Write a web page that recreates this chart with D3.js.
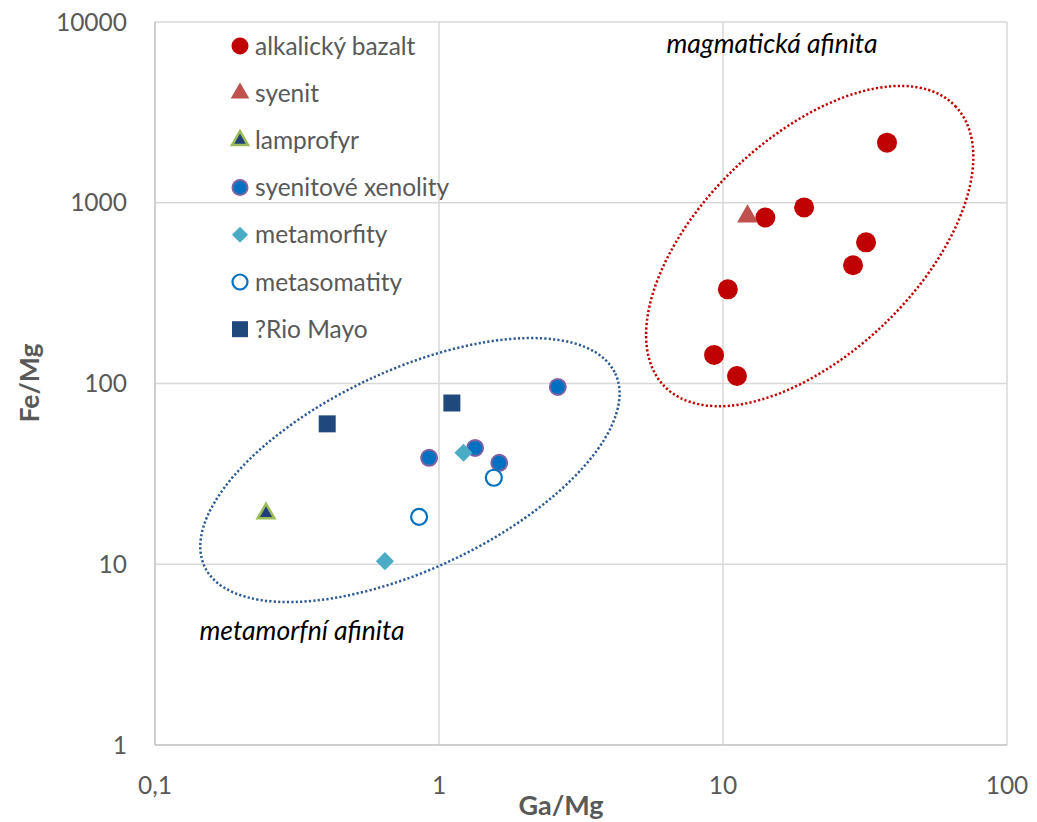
<!DOCTYPE html>
<html><head><meta charset="utf-8">
<script src="https://cdn.jsdelivr.net/npm/d3@7/dist/d3.min.js"></script>
<style>body{margin:0;background:#fff}svg{display:block}</style>
</head><body>
<svg id="c" width="1037" height="822"></svg>
<script>
// ---- data ----
const seriesNames = ["alkalický bazalt","syenit","lamprofyr","syenitové xenolity","metamorfity","metasomatity","?Rio Mayo"];
const bazaltGa = [37.8, 19.3, 14.1, 31.9, 28.7, 10.4, 9.3, 11.2];
const bazaltFe = [2150, 942, 829, 604, 451, 332, 144, 110];
const syenitGa = [12.2];
const syenitFe = [840];
const lamprofyrGa = [0.246];
const lamprofyrFe = [19.1];
const xenolityGa = [0.923, 1.34, 1.63, 2.62];
const xenolityFe = [38.8, 44, 36.4, 95.7];
const metamorfityGa = [1.22, 0.645];
const metamorfityFe = [41.4, 10.4];
const metasomatityGa = [1.56, 0.851];
const metasomatityFe = [30.1, 18.3];
const rioMayoGa = [0.404, 1.11];
const rioMayoFe = [59.8, 78];
const xTicks = [0.1, 1, 10, 100];
const xTickLabels = ["0,1", "1", "10", "100"];
const yTicks = [1, 10, 100, 1000, 10000];
const yTickLabels = ["1", "10", "100", "1000", "10000"];
// ellipses: centre (Ga/Mg, Fe/Mg), semi-axes in decades, rotation in degrees
const ellipseNames = ["magmatická afinita", "metamorfní afinita"];
const ellipseCx = [20.2, 0.79];
const ellipseCy = [576, 33.2];
const ellipseA = [0.711, 0.799];
const ellipseB = [0.380, 0.350];
const ellipseRot = [-43.9, -25.2];

// ---- chart ----
const svg = d3.select("#c");
const font = "Lato, 'Open Sans', sans-serif";
const x = d3.scaleLog().domain([0.1, 100]).range([155, 1007]);
const y = d3.scaleLog().domain([1, 10000]).range([745, 22]);
const dec = x(10) - x(1);

// gridlines
svg.append("g").selectAll("line").data(yTicks.slice(1)).join("line")
  .attr("x1", x(0.1)).attr("x2", x(100)).attr("y1", d => y(d)).attr("y2", d => y(d))
  .attr("stroke", "#d9d9d9").attr("stroke-width", 1.5);
svg.append("g").selectAll("line").data(xTicks.slice(1)).join("line")
  .attr("y1", y(1)).attr("y2", y(10000)).attr("x1", d => x(d)).attr("x2", d => x(d))
  .attr("stroke", "#d9d9d9").attr("stroke-width", 1.5);
// axis lines
svg.append("line").attr("x1", x(0.1)).attr("x2", x(0.1)).attr("y1", y(1)).attr("y2", y(10000))
  .attr("stroke", "#bfbfbf").attr("stroke-width", 1.5);
svg.append("line").attr("x1", x(0.1)).attr("x2", x(100)).attr("y1", y(1)).attr("y2", y(1))
  .attr("stroke", "#bfbfbf").attr("stroke-width", 1.5);

// tick labels
svg.append("g").selectAll("text").data(yTicks).join("text")
  .attr("x", 127).attr("y", d => y(d)).attr("dy", "0.35em").attr("text-anchor", "end")
  .attr("font-family", font).attr("font-size", 24.5).attr("fill", "#595959")
  .text((d, i) => yTickLabels[i]);
svg.append("g").selectAll("text").data(xTicks).join("text")
  .attr("x", d => x(d)).attr("y", 785).attr("dy", "0.35em").attr("text-anchor", "middle")
  .attr("font-family", font).attr("font-size", 24.5).attr("fill", "#595959")
  .text((d, i) => xTickLabels[i]);
// axis titles
svg.append("text").attr("x", 561).attr("y", 806).attr("dy", "0.35em").attr("text-anchor", "middle")
  .attr("font-family", font).attr("font-size", 27).attr("font-weight", "bold").attr("fill", "#595959")
  .text("Ga/Mg");
svg.append("text").attr("transform", "translate(30,383) rotate(-90)").attr("dy", "0.35em")
  .attr("text-anchor", "middle").attr("font-family", font).attr("font-size", 26.5)
  .attr("font-weight", "bold").attr("fill", "#595959").text("Fe/Mg");

// ellipses
const ellColors = ["#c00000", "#2e5a94"];
ellipseNames.forEach((n, i) => {
  svg.append("ellipse")
    .attr("transform", `translate(${x(ellipseCx[i])},${y(ellipseCy[i])}) rotate(${ellipseRot[i]})`)
    .attr("rx", ellipseA[i] * dec).attr("ry", ellipseB[i] * dec)
    .attr("fill", "none").attr("stroke", ellColors[i]).attr("stroke-width", 2.5)
    .attr("stroke-dasharray", "2.2,2.2");
});
// annotations
svg.append("text").attr("x", 772).attr("y", 44).attr("dy", "0.35em").attr("text-anchor", "middle")
  .attr("font-family", font).attr("font-size", 26.5).attr("font-style", "italic").attr("fill", "#000")
  .text(ellipseNames[0]);
svg.append("text").attr("x", 302).attr("y", 631).attr("dy", "0.35em").attr("text-anchor", "middle")
  .attr("font-family", font).attr("font-size", 26.5).attr("font-style", "italic").attr("fill", "#000")
  .text(ellipseNames[1]);

// marker styles
const styles = [
  {type: d3.symbolCircle, size: Math.PI * 10 * 10, lsize: Math.PI * 8.5 * 8.5, fill: "#c00000", stroke: "none", sw: 0, rot: 0},
  {type: d3.symbolTriangle, size: 190, lsize: 150, fill: "#c0504d", stroke: "none", sw: 0, rot: 0},
  {type: d3.symbolTriangle, size: 120, lsize: 110, fill: "#1f3f7a", stroke: "#9bbb59", sw: 2.5, rot: 0},
  {type: d3.symbolCircle, size: Math.PI * 8 * 8, lsize: Math.PI * 7.5 * 7.5, fill: "#0070c0", stroke: "#8064a2", sw: 2, rot: 0},
  {type: d3.symbolSquare, size: 165, lsize: 130, fill: "#4bacc6", stroke: "none", sw: 0, rot: 45},
  {type: d3.symbolCircle, size: Math.PI * 8 * 8, lsize: Math.PI * 7.5 * 7.5, fill: "#fff", stroke: "#0070c0", sw: 2.2, rot: 0},
  {type: d3.symbolSquare, size: 289, lsize: 256, fill: "#1f497d", stroke: "none", sw: 0, rot: 0}
];
const seriesGa = [bazaltGa, syenitGa, lamprofyrGa, xenolityGa, metamorfityGa, metasomatityGa, rioMayoGa];
const seriesFe = [bazaltFe, syenitFe, lamprofyrFe, xenolityFe, metamorfityFe, metasomatityFe, rioMayoFe];

seriesNames.forEach((name, i) => {
  const st = styles[i];
  const pts = seriesGa[i].map((g, j) => ({g, f: seriesFe[i][j]}));
  svg.append("g").selectAll("path").data(pts).join("path")
    .attr("transform", d => `translate(${x(d.g)},${y(d.f)}) rotate(${st.rot})`)
    .attr("d", d3.symbol().type(st.type).size(st.size))
    .attr("fill", st.fill).attr("stroke", st.stroke).attr("stroke-width", st.sw);
});

// legend
const lg = svg.append("g");
seriesNames.forEach((name, i) => {
  const st = styles[i];
  const cy = 46 + i * 47.2;
  lg.append("path").attr("transform", `translate(240,${cy}) rotate(${st.rot})`)
    .attr("d", d3.symbol().type(st.type).size(st.lsize))
    .attr("fill", st.fill).attr("stroke", st.stroke).attr("stroke-width", st.sw);
  lg.append("text").attr("x", 255).attr("y", cy).attr("dy", "0.35em")
    .attr("font-family", font).attr("font-size", 24.5).attr("fill", "#595959").text(name);
});
</script>
</body></html>
